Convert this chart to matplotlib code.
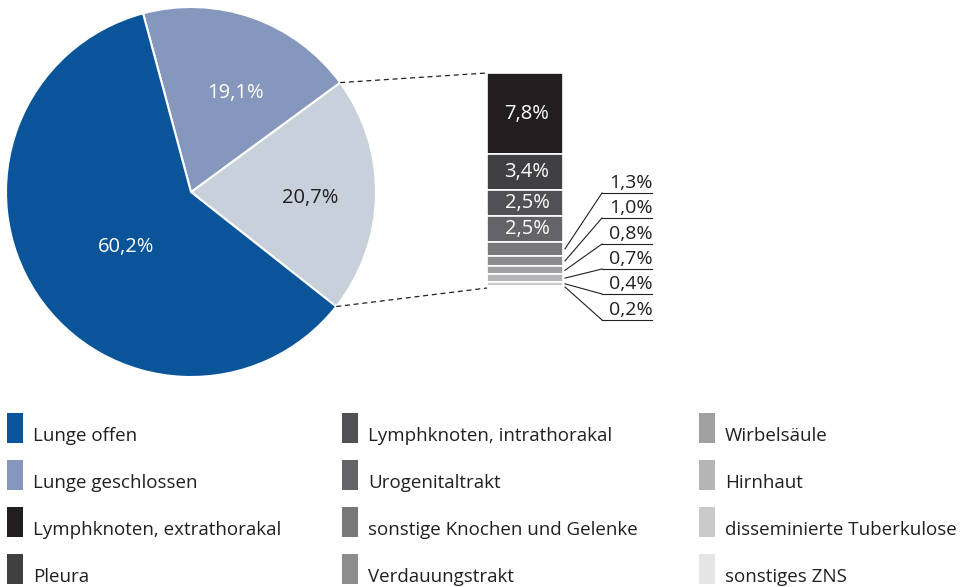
import numpy as np
import matplotlib
matplotlib.use("Agg")
import matplotlib.pyplot as plt
from matplotlib.patches import Rectangle

plt.rcParams["font.family"] = ["Open Sans", "DejaVu Sans"]

# ── data ───────────────────────────────────────────
pie_labels = ["Andere", "Lunge geschlossen", "Lunge offen"]
pie_values = [20.7, 19.1, 60.2]
pie_colors = ["#c8d0dc", "#8697bd", "#0a5499"]

bar_labels = ["Lymphknoten, extrathorakal", "Pleura", "Lymphknoten, intrathorakal",
              "Urogenitaltrakt", "sonstige Knochen und Gelenke", "Verdauungstrakt",
              "Wirbelsäule", "Hirnhaut", "disseminierte Tuberkulose", "sonstiges ZNS"]
bar_values = [7.8, 3.4, 2.5, 2.5, 1.3, 1.0, 0.8, 0.7, 0.4, 0.2]
bar_colors = ["#231f20", "#404042", "#505055", "#646468", "#78787b", "#8c8c8f",
              "#a0a0a3", "#b5b5b8", "#cacacc", "#e5e5e7"]

legend_order = ["Lunge offen", "Lunge geschlossen"] + bar_labels
legend_colors = ["#0a5499", "#8697bd"] + bar_colors


def fmt(v):
    return f"{v:.1f}%".replace(".", ",")


W, H = 963, 587
fig = plt.figure(figsize=(W / 100, H / 100), dpi=100)
ax = fig.add_axes([0, 0, 1, 1])
ax.set_xlim(0, W)
ax.set_ylim(0, H)
ax.set_aspect("equal")
ax.axis("off")

# ── pie ───────────────────────────────────────────
cx, cy, r = 191, H - 192, 185
start = -1 - pie_values[0] / 100 * 180
ax.pie(pie_values, colors=pie_colors, startangle=start, counterclock=True,
       center=(cx, cy), radius=r, wedgeprops=dict(edgecolor="white", linewidth=1.5))
ax.set_xlim(0, W)
ax.set_ylim(0, H)

ax.text(126, H - 247, fmt(pie_values[2]), color="white", fontsize=14.5, ha="center", va="center")
ax.text(235, H - 93, fmt(pie_values[1]), color="white", fontsize=14.5, ha="center", va="center")
ax.text(310, H - 198, fmt(pie_values[0]), color="#231f20", fontsize=14.5, ha="center", va="center")

# ── stacked bar ───────────────────────────────────
bx0, bx1 = 487, 563
btop, bbot = H - 73, H - 288
scale = (btop - bbot) / sum(bar_values)
tops = btop - np.concatenate([[0], np.cumsum(bar_values)[:-1]]) * scale
heights = np.array(bar_values) * scale
ax.bar([(bx0 + bx1) / 2] * len(bar_values), heights, bottom=tops - heights,
       width=bx1 - bx0, color=bar_colors, edgecolor="white", linewidth=1.2)

for i in range(4):
    ax.text((bx0 + bx1) / 2 + 2, tops[i] - heights[i] / 2, fmt(bar_values[i]),
            color="white", fontsize=14.5, ha="center", va="center")

# dashed connectors pie → bar
a_up = np.deg2rad(start + pie_values[0] / 100 * 360)
a_lo = np.deg2rad(start)
ax.plot([cx + r * np.cos(a_up), bx0], [cy + r * np.sin(a_up), btop],
        color="#231f20", lw=0.9, ls=(0, (4, 3)))
ax.plot([cx + r * np.cos(a_lo), bx0], [cy + r * np.sin(a_lo), bbot],
        color="#231f20", lw=0.9, ls=(0, (4, 3)))

# small segment labels with leader lines
label_y = [193, 218, 244, 269, 294, 320]
for k, i in enumerate(range(4, len(bar_values))):
    ly = H - label_y[k]
    sy = tops[i] - heights[i] / 2
    ax.plot([bx1 + 2, 602], [sy, ly], color="#231f20", lw=0.8)
    ax.plot([602, 652], [ly, ly], color="#231f20", lw=0.8)
    ax.text(653, ly + 1, fmt(bar_values[i]), color="#231f20", fontsize=14,
            ha="right", va="bottom")

# ── legend ────────────────────────────────────────
col_x = [7, 342, 699]
row_y = [413, 460, 507, 554]
for j, (lab, col) in enumerate(zip(legend_order, legend_colors)):
    c, rr = divmod(j, 4)
    x, y = col_x[c], row_y[rr]
    ax.add_patch(Rectangle((x, H - y - 30), 16, 30, color=col, lw=0))
    ax.text(x + 26, H - y - 23, lab, color="#231f20", fontsize=13.5, ha="left", va="center")

fig.savefig("out.png", dpi=100)
